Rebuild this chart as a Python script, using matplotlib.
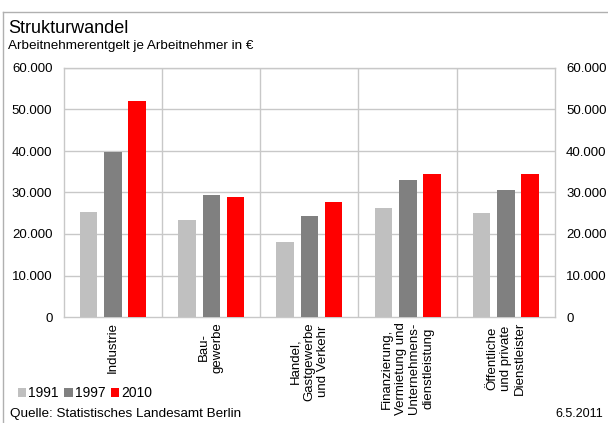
import matplotlib
matplotlib.use("Agg")
import matplotlib.pyplot as plt
from matplotlib.lines import Line2D
from matplotlib.patches import Patch
import numpy as np

plt.rcParams['font.family'] = ['Liberation Sans', 'DejaVu Sans']

categories = ["Industrie", "Bau-\ngewerbe", "Handel,\nGastgewerbe\nund Verkehr",
              "Finanzierung,\nVermietung und\nUnternehmens-\ndienstleistung",
              "Öffentliche\nund private\nDienstleister"]
years = ["1991", "1997", "2010"]
v1991 = [25300, 23400, 18100, 26200, 25000]
v1997 = [39800, 29400, 24300, 33000, 30600]
v2010 = [52000, 28900, 27700, 34500, 34500]
yticks = [0, 10000, 20000, 30000, 40000, 50000, 60000]
ytick_labels = ["0", "10.000", "20.000", "30.000", "40.000", "50.000", "60.000"]

colors = ["#C0C0C0", "#808080", "#FF0000"]
series = [v1991, v1997, v2010]
offsets = [-0.245, 0.003, 0.247]
width = 0.177

fig = plt.figure(figsize=(6.08, 4.23), dpi=100)
ax = fig.add_axes([63.5/608, 1-317/423, (555-63.5)/608, (317-68)/423])

x = np.arange(len(categories))
for s, c, o in zip(series, colors, offsets):
    ax.bar(x + o, s, width=width, color=c, zorder=3)

ax.set_xlim(-0.5, len(categories) - 0.5)
ax.set_ylim(0, 60000)
ax.set_yticks(yticks)
ax.set_yticklabels(ytick_labels, fontsize=9.5)
ax.tick_params(axis='y', length=0, pad=8, labelright=True, right=False)
ax.set_xticks([])
for yv in yticks[1:]:
    ax.axhline(yv, color="#C8C8C8", lw=1.0, zorder=1)
for xv in np.arange(0.5, len(categories) - 0.5, 1):
    ax.axvline(xv, color="#C8C8C8", lw=1.0, zorder=1)
for sp in ax.spines.values():
    sp.set_color("#C8C8C8")
    sp.set_linewidth(1.0)

for i, lab in enumerate(categories):
    ax.text(i, -0.02, lab, transform=ax.get_xaxis_transform(), rotation=90,
            ha='center', va='top', multialignment='center', fontsize=9.5,
            linespacing=1.2)

fig.text(8/608, 1-33/423, "Strukturwandel", fontsize=13, ha='left', va='baseline')
fig.text(8/608, 1-49.5/423, "Arbeitnehmerentgelt je Arbeitnehmer in €", fontsize=9.7, ha='left', va='baseline')
fig.text(10/608, 1-417/423, "Quelle: Statistisches Landesamt Berlin", fontsize=9.7, ha='left', va='baseline')
fig.text(603/608, 1-417/423, "6.5.2011", fontsize=9, ha='right', va='baseline')

handles = [Patch(facecolor=c, edgecolor='none') for c in colors]
fig.legend(handles, years, loc='lower left', bbox_to_anchor=(18/608, 1-400/423),
           frameon=False, ncol=3, fontsize=10, handlelength=0.6, handleheight=0.6,
           handletextpad=0.15, columnspacing=0.4, borderaxespad=0, borderpad=0)

fig.add_artist(Line2D([3/608, 3/608], [0, 1-12/423], color="#B0B0B0", lw=1.0, transform=fig.transFigure))
fig.add_artist(Line2D([3/608, 1], [1-12/423, 1-12/423], color="#B0B0B0", lw=1.0, transform=fig.transFigure))

fig.savefig("out.png", dpi=100)
